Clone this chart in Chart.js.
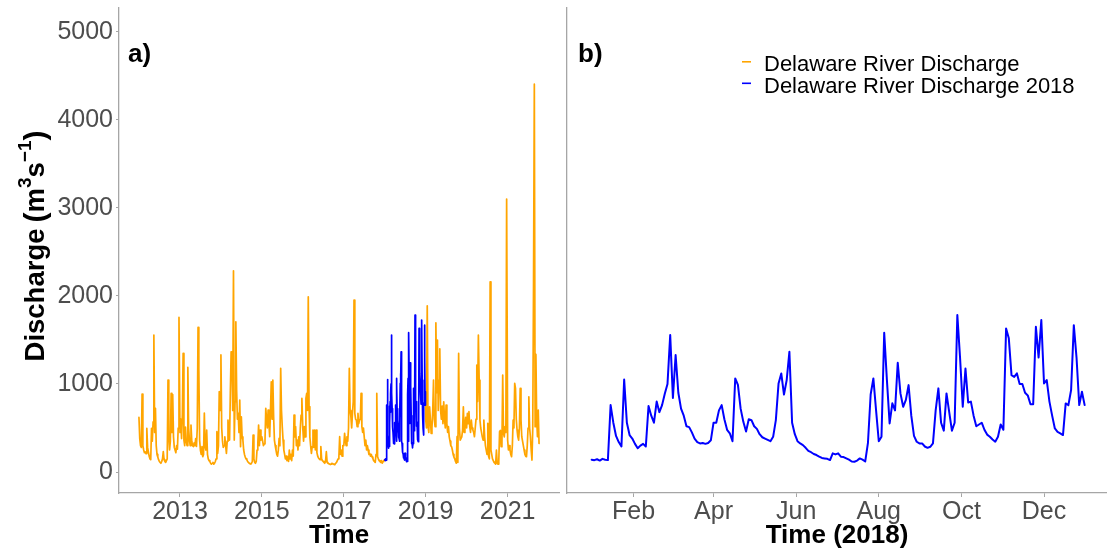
<!DOCTYPE html>
<html>
<head>
<meta charset="utf-8">
<script src="https://cdn.jsdelivr.net/npm/chart.js@4.4.0/dist/chart.umd.min.js"></script>
<style>
html,body{margin:0;padding:0;background:#fff;}
#wrap{position:relative;width:1107px;height:554px;overflow:hidden;background:#fff;}
#left{position:absolute;left:0;top:0;width:565px;height:554px;}
#right{position:absolute;left:560px;top:0;width:547px;height:554px;}
</style>
</head>
<body>
<div id="wrap">
  <canvas id="left" width="565" height="554"></canvas>
  <canvas id="right" width="547" height="554"></canvas>
</div>
<script>
/* ---------- data (m3/s) ---------- */

// weekly values, one array per year (2018 is kept at 2-day steps below)
const q2012 = [620,380,300,280,885,300,250,220,230,210,496,280,230,180,150,140,496,350,571,1555,
  450,723,300,200,170,140,120,110,100,120,150,231,140,120,110,130,150,1044,400,250,
  350,893,450,880,400,280,250,220,300,260,500,1756];
const q2013 = [450,600,380,650,1347,363,300,510,350,300,1188,500,363,300,533,350,300,290,330,300,
  380,290,500,1642,1158,363,250,200,288,174,200,670,288,250,477,200,150,130,120,100,
  90,100,110,90,100,120,150,458,212,300,912,700];
const q2014 = [1330,500,350,280,300,400,300,212,350,590,450,363,900,1366,1328,700,2285,363,800,1706,
  930,600,666,450,817,288,628,400,363,250,200,170,150,140,120,110,100,95,90,100,
  120,420,150,110,100,120,250,325,533,300,477,363];
const q2015 = [400,350,300,320,350,723,600,500,704,550,401,700,1025,600,1044,628,363,300,250,200,
  180,250,382,300,1177,700,515,363,250,200,150,180,130,170,120,250,150,200,130,250,
  180,647,400,515,300,363,250,400,300,500,647,836];
const q2016 = [500,350,515,400,836,893,700,1990,742,400,300,212,288,477,280,477,250,477,220,180,
  160,150,140,288,150,130,120,110,100,120,231,110,100,95,90,85,90,100,95,90,
  85,90,100,110,130,150,170,401,200,250,180,300];
const q2017 = [300,439,350,300,400,350,500,1177,700,628,500,666,800,1953,666,600,590,515,666,550,
  590,600,893,515,450,500,400,300,363,250,300,250,200,212,180,200,170,155,130,120,
  110,200,893,174,150,130,120,110,130,100,120,130];
const q2019 = [600,500,1888,515,450,741,600,439,500,700,1044,600,515,1695,900,1498,700,1044,1400,700,
  600,750,550,798,600,500,760,550,450,515,400,350,300,288,250,200,170,150,120,100,
  401,110,1347,500,363,363,400,477,741,450,515,620];
const q2020 = [500,666,550,685,515,450,590,500,477,450,401,500,600,1215,800,1555,1044,590,500,450,
  400,363,590,401,300,250,200,553,180,150,2160,250,200,150,130,110,100,90,250,100,
  90,120,458,473,288,300,1101,439,400,515,450,3100];
const q2021 = [363,250,300,250,200,174,300,590,500,1006,949,600,477,400,363,500,949,600,401,350,
  300,250,200,180,174,300,500,855,500,401,250,136,500,2156,4404,514,1335,600,401,704,
  325];

// 2018, every second day from 1 Jan
const q2018 = [140,135,145,130,150,140,136,760,560,410,340,290,1050,560,420,380,320,270,300,320,
  290,750,640,560,800,680,760,890,1000,1555,840,1328,900,720,640,520,510,450,380,340,
  325,330,320,330,360,560,560,700,760,600,480,440,350,1063,990,720,570,460,600,590,
  520,490,430,395,380,365,350,400,590,1006,1120,880,1044,1366,560,430,350,325,306,275,
  240,225,205,193,175,160,155,150,136,212,200,212,174,170,155,140,120,117,130,155,
  140,120,330,880,1063,700,350,401,1582,1044,552,780,700,1241,893,741,820,987,640,410,
  344,325,325,290,275,287,325,700,950,560,470,893,680,470,560,1782,1300,741,1176,790,
  800,640,520,540,560,480,425,401,370,345,401,540,480,1631,1518,1100,1080,1120,1000,1000,
  900,870,770,770,1650,1300,1726,1006,1044,800,640,495,455,439,420,779,760,931,1668,1300,
  760,912,760];

const weeklyByYear = {2012: q2012, 2013: q2013, 2014: q2014, 2015: q2015, 2016: q2016,
  2017: q2017, 2019: q2019, 2020: q2020, 2021: q2021};

const seriesNames = ['Delaware River Discharge', 'Delaware River Discharge 2018'];
const yTicks = [0, 1000, 2000, 3000, 4000, 5000];
const yTickLabels = ['0', '1000', '2000', '3000', '4000', '5000'];
const yearTicks = [2013, 2015, 2017, 2019, 2021];
const yearTickLabels = ['2013', '2015', '2017', '2019', '2021'];
const monthTicks = [1, 3, 5, 7, 9, 11];          // month index in 2018
const monthTickLabels = ['Feb', 'Apr', 'Jun', 'Aug', 'Oct', 'Dec'];

/* ---------- look ---------- */

const ORANGE = '#FFA500';
const BLUE = '#0000FF';
const AXIS_GREY = '#a6a6a6';
const TICK_GREY = '#4d4d4d';
const FONT = "'Liberation Sans', Arial, sans-serif";

function dayOf(y, m, d){
    return (Date.UTC(y, m, d) - Date.UTC(2012, 0, 1)) / 864e5;
}

// points for the long record; 2018 is left to the blue line (orange only touches its ends)
const start2018 = dayOf(2018, 0, 1);
const end2018 = start2018 + (q2018.length - 1) * 2;
const longPts = [];
for (let y = 2012; y <= 2021; y++){
    if (y === 2018){
        longPts.push({x: start2018, y: q2018[0]});
        longPts.push({x: start2018 + 1, y: null});
        longPts.push({x: end2018, y: q2018[q2018.length - 1]});
    } else {
        weeklyByYear[y].forEach((v, i) => longPts.push({x: dayOf(y, 0, 1) + i * 7, y: v}));
    }
}
const pts2018Long = q2018.map((v, i) => ({x: start2018 + i * 2, y: v}));
const pts2018 = q2018.map((v, i) => ({x: i * 2, y: v}));

/* ---------- helpers ---------- */

function noPad(s){
    s.paddingTop = 0; s.paddingBottom = 0; s.paddingLeft = 0; s.paddingRight = 0;
}

function xScale(min, max, tickVals, tickLabels, title){
    return {
        type: 'linear', min: min, max: max,
        afterBuildTicks: s => { s.ticks = tickVals.map(v => ({value: v})); },
        afterFit: s => { s.height = 61; noPad(s); },
        grid: {drawOnChartArea: false, drawTicks: true, tickLength: 4, color: AXIS_GREY, lineWidth: 1},
        border: {display: true, color: AXIS_GREY, width: 1.3},
        ticks: {
            font: {family: FONT, size: 25}, color: TICK_GREY, padding: 0,
            maxRotation: 0, autoSkip: false,
            callback: (v, i) => tickLabels[i]
        },
        title: {
            display: true, text: title, color: '#000',
            font: {family: FONT, size: 26, weight: 'bold'},
            padding: {top: 0, bottom: 3}
        }
    };
}

function yScale(showLabels, width){
    return {
        type: 'linear', min: -238, max: 5269,
        afterBuildTicks: s => { s.ticks = yTicks.map(v => ({value: v})); },
        afterFit: s => { s.width = width; noPad(s); },
        grid: {drawOnChartArea: false, drawTicks: showLabels, tickLength: 3, color: AXIS_GREY, lineWidth: 1},
        border: {display: true, color: AXIS_GREY, width: 1.3},
        ticks: {
            display: showLabels,
            font: {family: FONT, size: 25}, color: TICK_GREY, padding: 3,
            callback: (v, i) => yTickLabels[i]
        }
    };
}

const panelLabel = {
    id: 'panelLabel',
    afterDraw(chart, args, opts){
        const ctx = chart.ctx;
        ctx.save();
        ctx.font = 'bold 26px ' + FONT;
        ctx.fillStyle = '#000';
        ctx.textBaseline = 'alphabetic';
        ctx.fillText(opts.text, opts.x, 62);
        ctx.restore();
    }
};

const yTitle = {
    id: 'yTitle',
    afterDraw(chart, args, opts){
        if (!opts.show) return;
        const ctx = chart.ctx;
        // [text, font size, baseline shift, extra space after]
        const parts = [
            ['Discharge', 27.5, 0, 6], ['(', 30, 1, 0], ['m', 27.5, 0, 0], ['3', 19, -13, 0],
            ['s', 27.5, 0, 0], ['\u22121', 19, -13, 0], [')', 30, 1, 0]
        ];
        ctx.save();
        let w = 0;
        parts.forEach(p => { ctx.font = 'bold ' + p[1] + 'px ' + FONT; w += ctx.measureText(p[0]).width + p[3]; });
        ctx.translate(44, 246);
        ctx.rotate(-Math.PI / 2);
        ctx.fillStyle = '#000';
        ctx.textBaseline = 'alphabetic';
        let x = -w / 2;
        parts.forEach(p => {
            ctx.font = 'bold ' + p[1] + 'px ' + FONT;
            ctx.fillText(p[0], x, p[2]);
            x += ctx.measureText(p[0]).width + p[3];
        });
        ctx.restore();
    }
};

const keyBox = {
    id: 'keyBox',
    afterDraw(chart, args, opts){
        if (!opts.show) return;
        const ctx = chart.ctx;
        const colors = [ORANGE, BLUE];
        ctx.save();
        ctx.font = '22px ' + FONT;
        ctx.textBaseline = 'alphabetic';
        seriesNames.forEach((name, i) => {
            const base = 71 + i * 21.5;
            ctx.strokeStyle = colors[i];
            ctx.lineWidth = 1.6;
            ctx.beginPath();
            ctx.moveTo(182, base - 9.2);
            ctx.lineTo(191, base - 9.2);
            ctx.stroke();
            ctx.fillStyle = '#000';
            ctx.fillText(name, 204, base);
        });
        ctx.restore();
    }
};

const common = {
    responsive: false,
    animation: false,
    events: [],
    parsing: false,
    normalized: true,
    elements: {
        point: {radius: 0},
        line: {tension: 0, borderJoinStyle: 'round', borderCapStyle: 'round', fill: false}
    }
};

/* ---------- panel a) ---------- */

new Chart(document.getElementById('left'), {
    type: 'line',
    data: {
        datasets: [
            {label: seriesNames[1], data: pts2018Long, borderColor: BLUE, borderWidth: 1.7, order: 0},
            {label: seriesNames[0], data: longPts, borderColor: ORANGE, borderWidth: 1.7, order: 1, spanGaps: false}
        ]
    },
    options: Object.assign({}, common, {
        layout: {padding: {left: 0, right: 6, top: 8, bottom: 0}},
        scales: {
            x: xScale(-178, 3746, yearTicks.map(y => dayOf(y, 0, 1)), yearTickLabels, 'Time'),
            y: yScale(true, 119)
        },
        plugins: {
            legend: {display: false},
            tooltip: {enabled: false},
            panelLabel: {text: 'a)', x: 128},
            yTitle: {show: true},
            keyBox: {show: false}
        }
    }),
    plugins: [panelLabel, yTitle, keyBox]
});

/* ---------- panel b) ---------- */

new Chart(document.getElementById('right'), {
    type: 'line',
    data: {
        datasets: [
            {label: seriesNames[1], data: pts2018, borderColor: BLUE, borderWidth: 2}
        ]
    },
    options: Object.assign({}, common, {
        layout: {padding: {left: 0, right: 0, top: 8, bottom: 0}},
        scales: {
            x: xScale(-18.2, 380.5, monthTicks.map(m => dayOf(2018, m, 1) - start2018), monthTickLabels, 'Time (2018)'),
            y: yScale(false, 7)
        },
        plugins: {
            legend: {display: false},
            tooltip: {enabled: false},
            panelLabel: {text: 'b)', x: 18},
            yTitle: {show: false},
            keyBox: {show: true}
        }
    }),
    plugins: [panelLabel, yTitle, keyBox]
});
</script>
</body>
</html>
